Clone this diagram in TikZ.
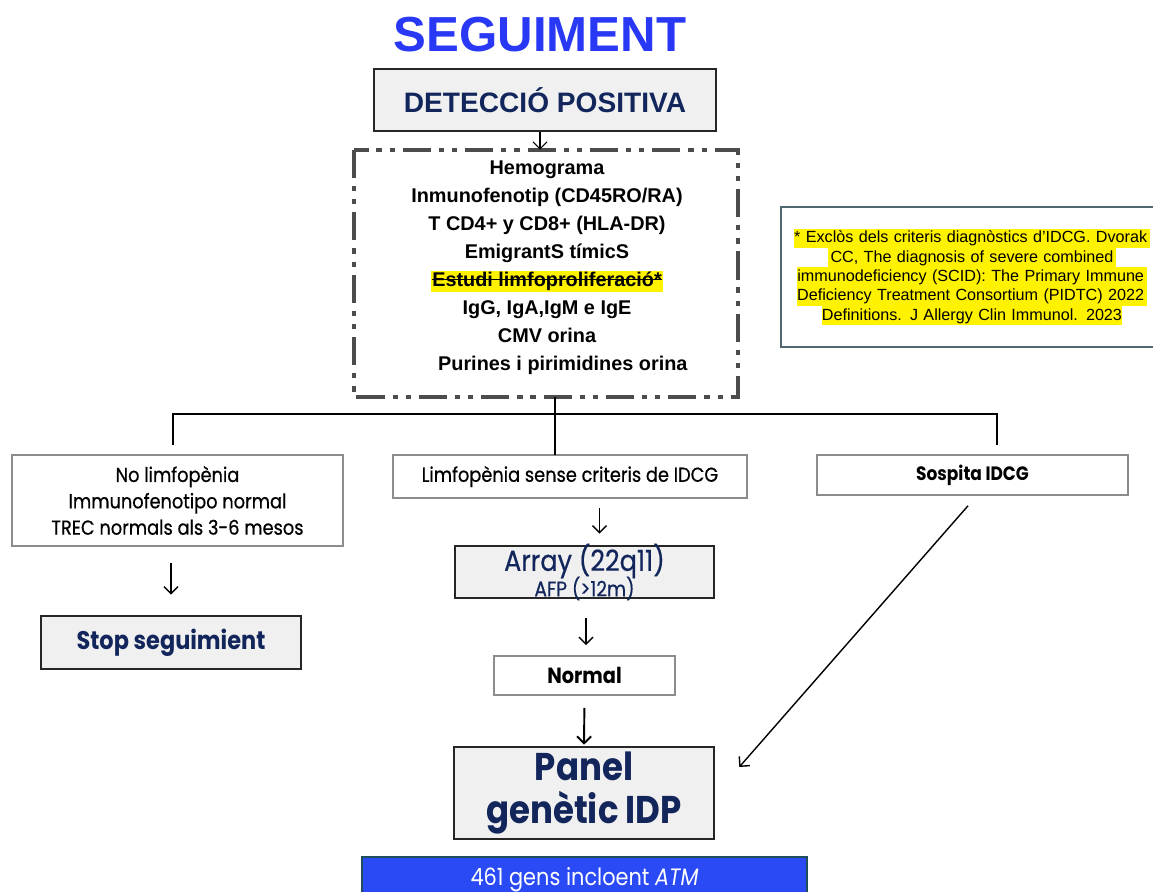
\documentclass[tikz,border=0pt]{standalone}
\usepackage{fontspec}
\setmainfont{Liberation Sans}
\newfontfamily\gotica[FakeStretch=0.88, UprightFeatures={FakeBold=0.6}]{Poppins}
\newfontfamily\goticafina[FakeStretch=0.88]{Poppins}
\usetikzlibrary{arrows,arrows.meta}

\definecolor{titol}{RGB}{40,56,245}
\definecolor{mari}{RGB}{18,38,92}
\definecolor{gris}{RGB}{240,240,240}
\definecolor{vora}{RGB}{140,140,140}
\definecolor{blau}{RGB}{42,74,246}
\definecolor{blauvora}{RGB}{30,78,92}
\newcommand\ratllat[1]{\setbox0\hbox{#1}\rlap{\rule[0.33em]{\wd0}{0.7pt}}\box0}
\newcommand\groc[1]{\colorbox{yellow}{\rule[-3pt]{0pt}{11pt}#1}}

\begin{document}
\begin{tikzpicture}[x=0.02cm,y=-0.02cm,
		fina/.style={draw=vora, line width=0.9pt, fill=white, inner sep=0pt, font=\gotica\fontsize{11.5}{15}\selectfont, align=center},
		grossa/.style={draw=black!85, line width=1.5pt, fill=gris, inner sep=0pt, text=mari, align=center},
		fletxa/.style={-{Straight Barb[length=4pt,width=8pt]}, line width=0.8pt}]
				\useasboundingbox (0,0) rectangle (1153,892);
				\node[font=\bfseries\fontsize{28}{32}\selectfont, text=titol] (titol) at (540,35) {SEGUIMENT};
				\node[grossa, minimum width=6.84cm, minimum height=1.24cm, font=\bfseries\fontsize{16}{18}\selectfont] (deteccio) at (545,100) {DETECCIÓ POSITIVA};
				% proves
				\draw[draw=black!70, line width=2.3pt, dash pattern=on 16pt off 4.5pt on 3pt off 4.5pt on 3pt off 4.5pt] (354,150) rectangle (738,397);
				\node[inner sep=0pt, minimum width=7.68cm, minimum height=4.94cm] (proves) at (546,273.5) {};
				\node[font=\bfseries\fontsize{11.3}{15.9}\selectfont, align=center] (llista) at (547,268) {Hemograma\\
					Inmunofenotip (CD45RO/RA)\\
					T CD4+ y CD8+ (HLA-DR)\\
					EmigrantS tímicS\\
					{\setlength{\fboxsep}{0.5pt}\colorbox{yellow}{\ratllat{Estudi limfoproliferació*}}}\\
					IgG, IgA,IgM e IgE\\
					CMV orina\\
					\hspace*{18pt}Purines i pirimidines orina};
				\draw[fletxa, line width=0.6pt] ([xshift=-0.1cm]deteccio.south) -- ([xshift=-0.1cm]deteccio.south |- proves.north);
				% nota
				\node[draw=blauvora!50!gray, line width=0.8pt, minimum width=7.58cm, minimum height=2.8cm, inner sep=0pt] (nota) at (970.5,277) {};
				\node[font=\fontsize{9.2}{11}\selectfont, text width=7.3cm, align=center, inner sep=0pt] (notatext) at (972,277) {\setlength{\fboxsep}{0pt}\lineskiplimit=-5pt%
					\groc{* Exclòs dels criteris diagnòstics d'IDCG. Dvorak\,}\\
					\groc{\,CC, The diagnosis of severe combined\,}\\
					\groc{immunodeficiency (SCID): The Primary Immune\,}\\
					\groc{Deficiency Treatment Consortium (PIDTC) 2022\,}\\
					\groc{Definitions. J Allergy Clin Immunol. 2023}};
				% branques
				\node[fina, minimum width=6.62cm, minimum height=1.82cm] (nolimf) at (177.5,500.5) {No limfopènia\\Immunofenotipo normal\\TREC normals als 3-6 mesos};
				\node[fina, minimum width=7.08cm, minimum height=0.86cm] (limf) at (570,476.5) {Limfopènia sense criteris de IDCG};
				\node[fina, minimum width=6.22cm, minimum height=0.8cm, font=\gotica\bfseries\fontsize{11}{12}\selectfont] (sospita) at (972.5,475) {Sospita IDCG};
				\coordinate (brL) at (173,414);
				\coordinate (brR) at (997,414);
				\coordinate (brLfi) at (173,445);
				\coordinate (brRfi) at (997,445);
				\draw[line width=0.9pt] (brLfi) -- (brL) -- (brR) -- (brRfi);
				\draw[line width=0.9pt] (555,397) -- (555,455);
				% passos
				\node[grossa, minimum width=5.2cm, minimum height=1.06cm, font=\gotica\bfseries\fontsize{14.5}{16}\selectfont] (stop) at (171,642.5) {Stop seguimient};
				\node[grossa, inner ysep=-3pt, minimum width=5.18cm, minimum height=1.04cm] (array) at (584.5,572) {{\gotica\fontsize{16.5}{17}\selectfont Array (22q11)}\\[-2pt]{\gotica\fontsize{12}{13}\selectfont AFP (>12m)}};
				\node[fina, minimum width=3.62cm, minimum height=0.78cm, font=\gotica\bfseries\fontsize{12.5}{14}\selectfont] (normal) at (584.5,675.5) {Normal};
				\node[grossa, minimum width=5.2cm, minimum height=1.84cm, font=\gotica\bfseries\fontsize{22}{24}\selectfont] (panel) at (584,793) {Panel\\genètic IDP};
				\node[draw=blauvora, line width=1.5pt, fill=blau, text=white, minimum width=8.9cm, minimum height=0.92cm, inner sep=0pt, font=\goticafina\fontsize{13.5}{15}\selectfont] (gens) at (584.5,880) {461 gens incloent \textit{ATM}};
				% fletxes
				\draw[fletxa, shorten <=0.32cm, shorten >=0.4cm] (stop.north |- nolimf.south) -- (stop.north);
				\draw[fletxa, shorten <=0.18cm, shorten >=0.22cm] ([xshift=0.3cm]array.north |- limf.south) -- ([xshift=0.3cm]array.north);
				\draw[fletxa, shorten <=0.38cm, shorten >=0.2cm] ([xshift=0.03cm]array.south) -- ([xshift=0.03cm]normal.north);
				\draw[fletxa, line width=1.1pt, shorten <=0.24cm, shorten >=0.02cm] (normal.south) -- (panel.north);
				\draw[fletxa] ([xshift=-0.09cm,yshift=-0.2cm]sospita.south) -- ([xshift=0.48cm,yshift=0.52cm]panel.east);
			\end{tikzpicture}
\end{document}
